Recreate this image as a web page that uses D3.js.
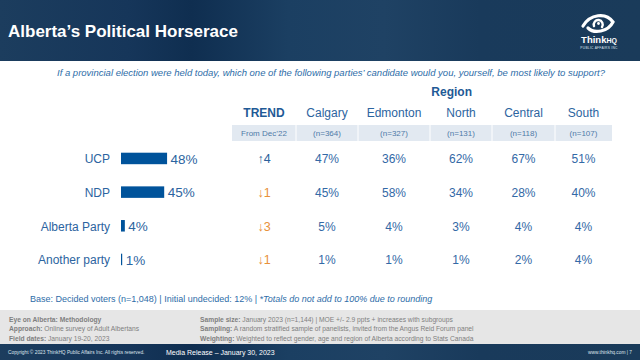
<!DOCTYPE html>
<html>
<head>
<meta charset="utf-8">
<script src="https://cdn.jsdelivr.net/npm/d3@7"></script>
<style>
  html, body { margin: 0; padding: 0; background: #fff; }
  svg { display: block; font-family: "Liberation Sans", Arial, sans-serif; }
</style>
</head>
<body>
<svg id="chart" width="640" height="360"></svg>
<script>
// ---------------- DATA ----------------
const title = "Alberta\u2019s Political Horserace";
const question = "If a provincial election were held today, which one of the following parties\u2019 candidate would you, yourself, be most likely to support?";
const parties = ["UCP", "NDP", "Alberta Party", "Another party"];
const overall = [48, 45, 4, 1];
const trend = [4, -1, -3, -1];
const regions = ["Calgary", "Edmonton", "North", "Central", "South"];
const regionN = [364, 327, 131, 118, 107];
const calgary = [47, 45, 5, 1];
const edmonton = [36, 58, 4, 1];
const north = [62, 34, 3, 1];
const central = [67, 28, 4, 2];
const south = [51, 40, 4, 4];
const regionValues = [calgary, edmonton, north, central, south];
const baseNote = "Base: Decided voters (n=1,048) | Initial undecided: 12% | ";
const baseNoteItalic = "*Totals do not add to 100% due to rounding";
const methodLeft = [["Eye on Alberta: Methodology", ""], ["Approach:", " Online survey of Adult Albertans"], ["Field dates:", " January 19-20, 2023"]];
const methodRight = [["Sample size:", " January 2023 (n=1,144) | MOE +/- 2.9 ppts + increases with subgroups"],
                     ["Sampling:", " A random stratified sample of panelists, invited from the Angus Reid Forum panel"],
                     ["Weighting:", " Weighted to reflect gender, age and region of Alberta according to Stats Canada"]];

// ---------------- DRAW ----------------
const svg = d3.select("#chart");
const defs = svg.append("defs");
const g1 = defs.append("linearGradient").attr("id", "hdr").attr("x1", "0").attr("x2", "1").attr("y1", "0").attr("y2", "0");
[["0", "#1c3d5e"], ["0.2", "#16365a"], ["0.3", "#0f2e50"], ["0.45", "#1b3f62"], ["0.6", "#1f4264"], ["0.75", "#193a5b"], ["1", "#1a3b5a"]]
  .forEach(([o, c]) => g1.append("stop").attr("offset", o).attr("stop-color", c));

// header
svg.append("rect").attr("x", 0).attr("y", 0).attr("width", 640).attr("height", 61).attr("fill", "url(#hdr)");
svg.append("text").attr("x", 8).attr("y", 37).attr("fill", "#fff").attr("font-size", 17).attr("font-weight", "bold").text(title);

// logo
const logo = svg.append("g").attr("transform", "translate(598,24)");
logo.append("path").attr("d", "M-15,2 C-8,-10 8,-12 15,-2 C10,8 -4,10 -10,4")
  .attr("fill", "none").attr("stroke", "#fff").attr("stroke-width", 3.2).attr("stroke-linecap", "round");
logo.append("path").attr("d", "M-4,2 A4.5,4.5 0 1 1 4,3")
  .attr("fill", "none").attr("stroke", "#fff").attr("stroke-width", 2.4).attr("stroke-linecap", "round");
logo.append("circle").attr("cx", 0.5).attr("cy", -0.5).attr("r", 1.4).attr("fill", "#fff");
const lt = svg.append("text").attr("x", 599).attr("y", 43).attr("text-anchor", "middle").attr("fill", "#fff").attr("font-weight", "bold");
lt.append("tspan").attr("font-size", 9.5).text("Think");
lt.append("tspan").attr("font-size", 7).text("HQ");
svg.append("text").attr("x", 599).attr("y", 48.5).attr("text-anchor", "middle").attr("fill", "#dfe6ee").attr("font-size", 3.2).attr("letter-spacing", 0.3).text("PUBLIC AFFAIRS INC");

// question
svg.append("text").attr("x", 331).attr("y", 75.5).attr("text-anchor", "middle").attr("fill", "#2e6da8")
  .attr("font-size", 9.5).attr("font-style", "italic").text(question);

// scales
const colEdge = d3.scaleLinear().domain([0, 1, 2, 3, 4, 5, 6]).range([232, 296, 358, 430, 492, 555, 612]);
const rowY = d3.scalePoint().domain(parties).range([159, 260]);
const barX = d3.scaleLinear().domain([0, 100]).range([121, 217]);

const blue = "#2c64a0";
const valBlue = "#3369a6";

// Region header
svg.append("text").attr("x", colEdge(3.35)).attr("y", 96).attr("text-anchor", "middle")
  .attr("fill", "#1f5a96").attr("font-size", 12).attr("font-weight", "bold").text("Region");

// column headers
svg.append("text").attr("x", colEdge(0.5)).attr("y", 117).attr("text-anchor", "middle")
  .attr("fill", "#1f5a96").attr("font-size", 12).attr("font-weight", "bold").text("TREND");
svg.selectAll("text.colh").data(regions).join("text").attr("class", "colh")
  .attr("x", (d, i) => colEdge(i + 1.5)).attr("y", 117).attr("text-anchor", "middle")
  .attr("fill", blue).attr("font-size", 12).text(d => d);

// sub header band
svg.append("rect").attr("x", colEdge(0)).attr("y", 125).attr("width", colEdge(6) - colEdge(0)).attr("height", 16).attr("fill", "#e2e9f1");
svg.selectAll("line.sep").data(d3.range(1, 6)).join("line").attr("class", "sep")
  .attr("x1", d => colEdge(d)).attr("x2", d => colEdge(d)).attr("y1", 125).attr("y2", 141)
  .attr("stroke", "#fff").attr("stroke-width", 1);
svg.append("text").attr("x", colEdge(0.5)).attr("y", 136).attr("text-anchor", "middle")
  .attr("fill", "#4f7aa8").attr("font-size", 8).text("From Dec\u201922");
svg.selectAll("text.nh").data(regionN).join("text").attr("class", "nh")
  .attr("x", (d, i) => colEdge(i + 1.5)).attr("y", 136).attr("text-anchor", "middle")
  .attr("fill", "#4f7aa8").attr("font-size", 8).text(d => `(n=${d})`);

// rows
svg.selectAll("text.rl").data(parties).join("text").attr("class", "rl")
  .attr("x", 110).attr("y", d => rowY(d)).attr("dy", "0.35em").attr("text-anchor", "end")
  .attr("fill", blue).attr("font-size", 12).text(d => d);
svg.selectAll("rect.bar").data(overall).join("rect").attr("class", "bar")
  .attr("x", barX(0)).attr("y", (d, i) => rowY(parties[i]) - 6.3)
  .attr("width", d => Math.max(barX(d) - barX(0), 1.2)).attr("height", 11.5).attr("fill", "#00539b");
svg.selectAll("text.bv").data(overall).join("text").attr("class", "bv")
  .attr("x", d => Math.max(barX(d), barX(0) + 1.2) + 3.5).attr("y", (d, i) => rowY(parties[i])).attr("dy", "0.35em")
  .attr("fill", blue).attr("font-size", 13.5).text(d => `${d}%`);

// trend
svg.selectAll("text.tr").data(trend).join("text").attr("class", "tr")
  .attr("x", colEdge(0.5)).attr("y", (d, i) => rowY(parties[i])).attr("dy", "0.35em").attr("text-anchor", "middle")
  .attr("fill", d => d > 0 ? "#2a5f9c" : "#e8913a").attr("font-size", 12.5)
  .text(d => (d > 0 ? "\u2191" : "\u2193") + Math.abs(d));

// region values
regionValues.forEach((vals, ci) => {
  svg.selectAll(`text.rv${ci}`).data(vals).join("text").attr("class", `rv${ci}`)
    .attr("x", colEdge(ci + 1.5)).attr("y", (d, i) => rowY(parties[i])).attr("dy", "0.35em").attr("text-anchor", "middle")
    .attr("fill", valBlue).attr("font-size", 12).text(d => `${d}%`);
});

// base note
const bn = svg.append("text").attr("x", 30).attr("y", 302).attr("fill", "#2e6da8").attr("font-size", 9);
bn.append("tspan").text(baseNote);
bn.append("tspan").attr("font-style", "italic").text(baseNoteItalic);

// methodology band
svg.append("rect").attr("x", 0).attr("y", 310).attr("width", 640).attr("height", 34).attr("fill", "#e6e6e6");
const mline = (arr, x) => arr.forEach(([b, r], i) => {
  const t = svg.append("text").attr("x", x).attr("y", 321.5 + i * 9.5).attr("fill", "#7f7f7f").attr("font-size", 6.7);
  t.append("tspan").attr("font-weight", "bold").text(b);
  t.append("tspan").text(r);
});
mline(methodLeft, 9);
mline(methodRight, 200);

// footer
svg.append("rect").attr("x", 0).attr("y", 344).attr("width", 640).attr("height", 16).attr("fill", "url(#hdr)");
svg.append("text").attr("x", 8).attr("y", 354).attr("fill", "#dfe6ee").attr("font-size", 4.8)
  .text("Copyright \u00a9 2023 ThinkHQ Public Affairs Inc. All rights reserved.");
svg.append("text").attr("x", 166).attr("y", 354.5).attr("fill", "#fff").attr("font-size", 7).text("Media Release \u2013 January 30, 2023");
svg.append("text").attr("x", 632).attr("y", 354).attr("text-anchor", "end").attr("fill", "#dfe6ee").attr("font-size", 4.8).text("www.thinkhq.com | 7");
</script>
</body>
</html>
